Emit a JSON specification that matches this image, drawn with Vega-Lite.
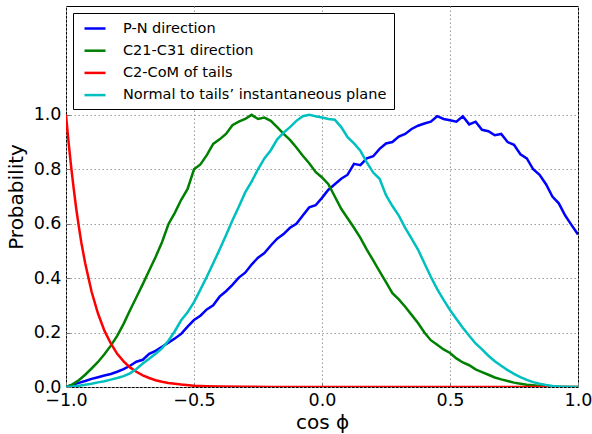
{
  "$schema": "https://vega.github.io/schema/vega-lite/v6.json",
  "width": 512,
  "height": 381,
  "autosize": {"type": "none"},
  "padding": {"left": 66, "top": 6, "right": 14, "bottom": 47},
  "background": "white",
  "config": {
    "font": "DejaVu Sans",
    "view": {"stroke": "black", "strokeWidth": 1},
    "axis": {"domain": false, "ticks": true, "tickSize": -4, "tickColor": "#777", "tickWidth": 1, "labelFont": "DejaVu Sans", "titleFont": "DejaVu Sans", "labelColor": "black", "titleColor": "black", "titleFontWeight": "normal", "labelFontSize": 17.5, "titleFontSize": 20, "gridColor": "#9a9a9a", "gridDash": [1.5, 2.5], "gridWidth": 1, "labelFlush": false, "labelOverlap": false}
  },
  "data": {"values": [
    {"x": -1.000, "p": 0.000, "s": "P-N direction"},
    {"x": -0.975, "p": 0.008, "s": "P-N direction"},
    {"x": -0.950, "p": 0.015, "s": "P-N direction"},
    {"x": -0.925, "p": 0.022, "s": "P-N direction"},
    {"x": -0.900, "p": 0.030, "s": "P-N direction"},
    {"x": -0.875, "p": 0.036, "s": "P-N direction"},
    {"x": -0.850, "p": 0.042, "s": "P-N direction"},
    {"x": -0.825, "p": 0.048, "s": "P-N direction"},
    {"x": -0.800, "p": 0.056, "s": "P-N direction"},
    {"x": -0.775, "p": 0.066, "s": "P-N direction"},
    {"x": -0.750, "p": 0.078, "s": "P-N direction"},
    {"x": -0.725, "p": 0.093, "s": "P-N direction"},
    {"x": -0.700, "p": 0.100, "s": "P-N direction"},
    {"x": -0.675, "p": 0.122, "s": "P-N direction"},
    {"x": -0.650, "p": 0.133, "s": "P-N direction"},
    {"x": -0.625, "p": 0.148, "s": "P-N direction"},
    {"x": -0.600, "p": 0.163, "s": "P-N direction"},
    {"x": -0.575, "p": 0.178, "s": "P-N direction"},
    {"x": -0.550, "p": 0.195, "s": "P-N direction"},
    {"x": -0.525, "p": 0.222, "s": "P-N direction"},
    {"x": -0.500, "p": 0.246, "s": "P-N direction"},
    {"x": -0.475, "p": 0.262, "s": "P-N direction"},
    {"x": -0.450, "p": 0.285, "s": "P-N direction"},
    {"x": -0.425, "p": 0.300, "s": "P-N direction"},
    {"x": -0.400, "p": 0.332, "s": "P-N direction"},
    {"x": -0.375, "p": 0.352, "s": "P-N direction"},
    {"x": -0.350, "p": 0.375, "s": "P-N direction"},
    {"x": -0.325, "p": 0.402, "s": "P-N direction"},
    {"x": -0.300, "p": 0.420, "s": "P-N direction"},
    {"x": -0.275, "p": 0.450, "s": "P-N direction"},
    {"x": -0.250, "p": 0.475, "s": "P-N direction"},
    {"x": -0.225, "p": 0.492, "s": "P-N direction"},
    {"x": -0.200, "p": 0.520, "s": "P-N direction"},
    {"x": -0.175, "p": 0.545, "s": "P-N direction"},
    {"x": -0.150, "p": 0.562, "s": "P-N direction"},
    {"x": -0.125, "p": 0.585, "s": "P-N direction"},
    {"x": -0.100, "p": 0.600, "s": "P-N direction"},
    {"x": -0.075, "p": 0.630, "s": "P-N direction"},
    {"x": -0.050, "p": 0.660, "s": "P-N direction"},
    {"x": -0.025, "p": 0.668, "s": "P-N direction"},
    {"x": 0.000, "p": 0.695, "s": "P-N direction"},
    {"x": 0.025, "p": 0.725, "s": "P-N direction"},
    {"x": 0.050, "p": 0.745, "s": "P-N direction"},
    {"x": 0.075, "p": 0.765, "s": "P-N direction"},
    {"x": 0.100, "p": 0.780, "s": "P-N direction"},
    {"x": 0.125, "p": 0.820, "s": "P-N direction"},
    {"x": 0.150, "p": 0.815, "s": "P-N direction"},
    {"x": 0.175, "p": 0.840, "s": "P-N direction"},
    {"x": 0.200, "p": 0.848, "s": "P-N direction"},
    {"x": 0.225, "p": 0.875, "s": "P-N direction"},
    {"x": 0.250, "p": 0.895, "s": "P-N direction"},
    {"x": 0.275, "p": 0.900, "s": "P-N direction"},
    {"x": 0.300, "p": 0.920, "s": "P-N direction"},
    {"x": 0.325, "p": 0.930, "s": "P-N direction"},
    {"x": 0.350, "p": 0.948, "s": "P-N direction"},
    {"x": 0.375, "p": 0.960, "s": "P-N direction"},
    {"x": 0.400, "p": 0.968, "s": "P-N direction"},
    {"x": 0.425, "p": 0.975, "s": "P-N direction"},
    {"x": 0.450, "p": 0.995, "s": "P-N direction"},
    {"x": 0.475, "p": 0.985, "s": "P-N direction"},
    {"x": 0.500, "p": 0.980, "s": "P-N direction"},
    {"x": 0.525, "p": 0.975, "s": "P-N direction"},
    {"x": 0.550, "p": 0.995, "s": "P-N direction"},
    {"x": 0.575, "p": 0.965, "s": "P-N direction"},
    {"x": 0.600, "p": 0.975, "s": "P-N direction"},
    {"x": 0.625, "p": 0.945, "s": "P-N direction"},
    {"x": 0.650, "p": 0.940, "s": "P-N direction"},
    {"x": 0.675, "p": 0.925, "s": "P-N direction"},
    {"x": 0.700, "p": 0.930, "s": "P-N direction"},
    {"x": 0.725, "p": 0.900, "s": "P-N direction"},
    {"x": 0.750, "p": 0.890, "s": "P-N direction"},
    {"x": 0.775, "p": 0.855, "s": "P-N direction"},
    {"x": 0.800, "p": 0.840, "s": "P-N direction"},
    {"x": 0.825, "p": 0.800, "s": "P-N direction"},
    {"x": 0.850, "p": 0.780, "s": "P-N direction"},
    {"x": 0.875, "p": 0.745, "s": "P-N direction"},
    {"x": 0.900, "p": 0.700, "s": "P-N direction"},
    {"x": 0.925, "p": 0.675, "s": "P-N direction"},
    {"x": 0.950, "p": 0.630, "s": "P-N direction"},
    {"x": 0.975, "p": 0.595, "s": "P-N direction"},
    {"x": 1.000, "p": 0.560, "s": "P-N direction"},

    {"x": -1.000, "p": 0.000, "s": "C21-C31 direction"},
    {"x": -0.975, "p": 0.010, "s": "C21-C31 direction"},
    {"x": -0.950, "p": 0.025, "s": "C21-C31 direction"},
    {"x": -0.925, "p": 0.045, "s": "C21-C31 direction"},
    {"x": -0.900, "p": 0.068, "s": "C21-C31 direction"},
    {"x": -0.875, "p": 0.092, "s": "C21-C31 direction"},
    {"x": -0.850, "p": 0.120, "s": "C21-C31 direction"},
    {"x": -0.825, "p": 0.152, "s": "C21-C31 direction"},
    {"x": -0.800, "p": 0.188, "s": "C21-C31 direction"},
    {"x": -0.775, "p": 0.232, "s": "C21-C31 direction"},
    {"x": -0.750, "p": 0.282, "s": "C21-C31 direction"},
    {"x": -0.725, "p": 0.330, "s": "C21-C31 direction"},
    {"x": -0.700, "p": 0.378, "s": "C21-C31 direction"},
    {"x": -0.675, "p": 0.428, "s": "C21-C31 direction"},
    {"x": -0.650, "p": 0.478, "s": "C21-C31 direction"},
    {"x": -0.625, "p": 0.532, "s": "C21-C31 direction"},
    {"x": -0.600, "p": 0.598, "s": "C21-C31 direction"},
    {"x": -0.575, "p": 0.640, "s": "C21-C31 direction"},
    {"x": -0.550, "p": 0.688, "s": "C21-C31 direction"},
    {"x": -0.525, "p": 0.728, "s": "C21-C31 direction"},
    {"x": -0.500, "p": 0.800, "s": "C21-C31 direction"},
    {"x": -0.475, "p": 0.818, "s": "C21-C31 direction"},
    {"x": -0.450, "p": 0.852, "s": "C21-C31 direction"},
    {"x": -0.425, "p": 0.893, "s": "C21-C31 direction"},
    {"x": -0.400, "p": 0.910, "s": "C21-C31 direction"},
    {"x": -0.375, "p": 0.930, "s": "C21-C31 direction"},
    {"x": -0.350, "p": 0.962, "s": "C21-C31 direction"},
    {"x": -0.325, "p": 0.975, "s": "C21-C31 direction"},
    {"x": -0.300, "p": 0.985, "s": "C21-C31 direction"},
    {"x": -0.275, "p": 1.000, "s": "C21-C31 direction"},
    {"x": -0.250, "p": 0.985, "s": "C21-C31 direction"},
    {"x": -0.225, "p": 0.990, "s": "C21-C31 direction"},
    {"x": -0.200, "p": 0.978, "s": "C21-C31 direction"},
    {"x": -0.175, "p": 0.955, "s": "C21-C31 direction"},
    {"x": -0.150, "p": 0.930, "s": "C21-C31 direction"},
    {"x": -0.125, "p": 0.908, "s": "C21-C31 direction"},
    {"x": -0.100, "p": 0.880, "s": "C21-C31 direction"},
    {"x": -0.075, "p": 0.850, "s": "C21-C31 direction"},
    {"x": -0.050, "p": 0.822, "s": "C21-C31 direction"},
    {"x": -0.025, "p": 0.790, "s": "C21-C31 direction"},
    {"x": 0.000, "p": 0.770, "s": "C21-C31 direction"},
    {"x": 0.025, "p": 0.745, "s": "C21-C31 direction"},
    {"x": 0.050, "p": 0.700, "s": "C21-C31 direction"},
    {"x": 0.075, "p": 0.655, "s": "C21-C31 direction"},
    {"x": 0.100, "p": 0.620, "s": "C21-C31 direction"},
    {"x": 0.125, "p": 0.585, "s": "C21-C31 direction"},
    {"x": 0.150, "p": 0.548, "s": "C21-C31 direction"},
    {"x": 0.175, "p": 0.505, "s": "C21-C31 direction"},
    {"x": 0.200, "p": 0.465, "s": "C21-C31 direction"},
    {"x": 0.225, "p": 0.425, "s": "C21-C31 direction"},
    {"x": 0.250, "p": 0.385, "s": "C21-C31 direction"},
    {"x": 0.275, "p": 0.345, "s": "C21-C31 direction"},
    {"x": 0.300, "p": 0.322, "s": "C21-C31 direction"},
    {"x": 0.325, "p": 0.295, "s": "C21-C31 direction"},
    {"x": 0.350, "p": 0.265, "s": "C21-C31 direction"},
    {"x": 0.375, "p": 0.235, "s": "C21-C31 direction"},
    {"x": 0.400, "p": 0.200, "s": "C21-C31 direction"},
    {"x": 0.425, "p": 0.172, "s": "C21-C31 direction"},
    {"x": 0.450, "p": 0.155, "s": "C21-C31 direction"},
    {"x": 0.475, "p": 0.138, "s": "C21-C31 direction"},
    {"x": 0.500, "p": 0.125, "s": "C21-C31 direction"},
    {"x": 0.525, "p": 0.105, "s": "C21-C31 direction"},
    {"x": 0.550, "p": 0.090, "s": "C21-C31 direction"},
    {"x": 0.575, "p": 0.080, "s": "C21-C31 direction"},
    {"x": 0.600, "p": 0.065, "s": "C21-C31 direction"},
    {"x": 0.625, "p": 0.055, "s": "C21-C31 direction"},
    {"x": 0.650, "p": 0.045, "s": "C21-C31 direction"},
    {"x": 0.675, "p": 0.035, "s": "C21-C31 direction"},
    {"x": 0.700, "p": 0.028, "s": "C21-C31 direction"},
    {"x": 0.725, "p": 0.022, "s": "C21-C31 direction"},
    {"x": 0.750, "p": 0.016, "s": "C21-C31 direction"},
    {"x": 0.775, "p": 0.012, "s": "C21-C31 direction"},
    {"x": 0.800, "p": 0.008, "s": "C21-C31 direction"},
    {"x": 0.825, "p": 0.006, "s": "C21-C31 direction"},
    {"x": 0.850, "p": 0.004, "s": "C21-C31 direction"},
    {"x": 0.875, "p": 0.002, "s": "C21-C31 direction"},
    {"x": 0.900, "p": 0.001, "s": "C21-C31 direction"},
    {"x": 0.950, "p": 0.000, "s": "C21-C31 direction"},
    {"x": 1.000, "p": 0.000, "s": "C21-C31 direction"},

    {"x": -1.000, "p": 1.000, "s": "C2-CoM of tails"},
    {"x": -0.990, "p": 0.900, "s": "C2-CoM of tails"},
    {"x": -0.980, "p": 0.810, "s": "C2-CoM of tails"},
    {"x": -0.970, "p": 0.730, "s": "C2-CoM of tails"},
    {"x": -0.960, "p": 0.655, "s": "C2-CoM of tails"},
    {"x": -0.950, "p": 0.590, "s": "C2-CoM of tails"},
    {"x": -0.940, "p": 0.530, "s": "C2-CoM of tails"},
    {"x": -0.925, "p": 0.455, "s": "C2-CoM of tails"},
    {"x": -0.900, "p": 0.350, "s": "C2-CoM of tails"},
    {"x": -0.875, "p": 0.270, "s": "C2-CoM of tails"},
    {"x": -0.850, "p": 0.207, "s": "C2-CoM of tails"},
    {"x": -0.825, "p": 0.160, "s": "C2-CoM of tails"},
    {"x": -0.800, "p": 0.122, "s": "C2-CoM of tails"},
    {"x": -0.775, "p": 0.094, "s": "C2-CoM of tails"},
    {"x": -0.750, "p": 0.072, "s": "C2-CoM of tails"},
    {"x": -0.725, "p": 0.056, "s": "C2-CoM of tails"},
    {"x": -0.700, "p": 0.043, "s": "C2-CoM of tails"},
    {"x": -0.675, "p": 0.033, "s": "C2-CoM of tails"},
    {"x": -0.650, "p": 0.025, "s": "C2-CoM of tails"},
    {"x": -0.625, "p": 0.019, "s": "C2-CoM of tails"},
    {"x": -0.600, "p": 0.015, "s": "C2-CoM of tails"},
    {"x": -0.550, "p": 0.009, "s": "C2-CoM of tails"},
    {"x": -0.500, "p": 0.005, "s": "C2-CoM of tails"},
    {"x": -0.450, "p": 0.003, "s": "C2-CoM of tails"},
    {"x": -0.400, "p": 0.002, "s": "C2-CoM of tails"},
    {"x": -0.300, "p": 0.001, "s": "C2-CoM of tails"},
    {"x": -0.200, "p": 0.000, "s": "C2-CoM of tails"},
    {"x": 0.000, "p": 0.000, "s": "C2-CoM of tails"},
    {"x": 0.500, "p": 0.000, "s": "C2-CoM of tails"},
    {"x": 1.000, "p": 0.000, "s": "C2-CoM of tails"},

    {"x": -1.000, "p": 0.000, "s": "Normal to tails’ instantaneous plane"},
    {"x": -0.975, "p": 0.002, "s": "Normal to tails’ instantaneous plane"},
    {"x": -0.950, "p": 0.005, "s": "Normal to tails’ instantaneous plane"},
    {"x": -0.925, "p": 0.008, "s": "Normal to tails’ instantaneous plane"},
    {"x": -0.900, "p": 0.012, "s": "Normal to tails’ instantaneous plane"},
    {"x": -0.875, "p": 0.017, "s": "Normal to tails’ instantaneous plane"},
    {"x": -0.850, "p": 0.021, "s": "Normal to tails’ instantaneous plane"},
    {"x": -0.825, "p": 0.027, "s": "Normal to tails’ instantaneous plane"},
    {"x": -0.800, "p": 0.033, "s": "Normal to tails’ instantaneous plane"},
    {"x": -0.775, "p": 0.040, "s": "Normal to tails’ instantaneous plane"},
    {"x": -0.750, "p": 0.050, "s": "Normal to tails’ instantaneous plane"},
    {"x": -0.725, "p": 0.066, "s": "Normal to tails’ instantaneous plane"},
    {"x": -0.700, "p": 0.086, "s": "Normal to tails’ instantaneous plane"},
    {"x": -0.675, "p": 0.104, "s": "Normal to tails’ instantaneous plane"},
    {"x": -0.650, "p": 0.122, "s": "Normal to tails’ instantaneous plane"},
    {"x": -0.625, "p": 0.142, "s": "Normal to tails’ instantaneous plane"},
    {"x": -0.600, "p": 0.170, "s": "Normal to tails’ instantaneous plane"},
    {"x": -0.575, "p": 0.205, "s": "Normal to tails’ instantaneous plane"},
    {"x": -0.550, "p": 0.245, "s": "Normal to tails’ instantaneous plane"},
    {"x": -0.525, "p": 0.275, "s": "Normal to tails’ instantaneous plane"},
    {"x": -0.500, "p": 0.312, "s": "Normal to tails’ instantaneous plane"},
    {"x": -0.475, "p": 0.358, "s": "Normal to tails’ instantaneous plane"},
    {"x": -0.450, "p": 0.405, "s": "Normal to tails’ instantaneous plane"},
    {"x": -0.425, "p": 0.455, "s": "Normal to tails’ instantaneous plane"},
    {"x": -0.400, "p": 0.505, "s": "Normal to tails’ instantaneous plane"},
    {"x": -0.375, "p": 0.558, "s": "Normal to tails’ instantaneous plane"},
    {"x": -0.350, "p": 0.612, "s": "Normal to tails’ instantaneous plane"},
    {"x": -0.325, "p": 0.662, "s": "Normal to tails’ instantaneous plane"},
    {"x": -0.300, "p": 0.715, "s": "Normal to tails’ instantaneous plane"},
    {"x": -0.275, "p": 0.755, "s": "Normal to tails’ instantaneous plane"},
    {"x": -0.250, "p": 0.800, "s": "Normal to tails’ instantaneous plane"},
    {"x": -0.225, "p": 0.840, "s": "Normal to tails’ instantaneous plane"},
    {"x": -0.200, "p": 0.870, "s": "Normal to tails’ instantaneous plane"},
    {"x": -0.175, "p": 0.910, "s": "Normal to tails’ instantaneous plane"},
    {"x": -0.150, "p": 0.935, "s": "Normal to tails’ instantaneous plane"},
    {"x": -0.125, "p": 0.955, "s": "Normal to tails’ instantaneous plane"},
    {"x": -0.100, "p": 0.978, "s": "Normal to tails’ instantaneous plane"},
    {"x": -0.075, "p": 0.995, "s": "Normal to tails’ instantaneous plane"},
    {"x": -0.050, "p": 1.000, "s": "Normal to tails’ instantaneous plane"},
    {"x": -0.025, "p": 0.995, "s": "Normal to tails’ instantaneous plane"},
    {"x": 0.000, "p": 0.990, "s": "Normal to tails’ instantaneous plane"},
    {"x": 0.025, "p": 0.985, "s": "Normal to tails’ instantaneous plane"},
    {"x": 0.050, "p": 0.982, "s": "Normal to tails’ instantaneous plane"},
    {"x": 0.075, "p": 0.955, "s": "Normal to tails’ instantaneous plane"},
    {"x": 0.100, "p": 0.918, "s": "Normal to tails’ instantaneous plane"},
    {"x": 0.125, "p": 0.895, "s": "Normal to tails’ instantaneous plane"},
    {"x": 0.150, "p": 0.868, "s": "Normal to tails’ instantaneous plane"},
    {"x": 0.175, "p": 0.825, "s": "Normal to tails’ instantaneous plane"},
    {"x": 0.200, "p": 0.788, "s": "Normal to tails’ instantaneous plane"},
    {"x": 0.225, "p": 0.765, "s": "Normal to tails’ instantaneous plane"},
    {"x": 0.250, "p": 0.705, "s": "Normal to tails’ instantaneous plane"},
    {"x": 0.275, "p": 0.665, "s": "Normal to tails’ instantaneous plane"},
    {"x": 0.300, "p": 0.630, "s": "Normal to tails’ instantaneous plane"},
    {"x": 0.325, "p": 0.585, "s": "Normal to tails’ instantaneous plane"},
    {"x": 0.350, "p": 0.545, "s": "Normal to tails’ instantaneous plane"},
    {"x": 0.375, "p": 0.505, "s": "Normal to tails’ instantaneous plane"},
    {"x": 0.400, "p": 0.455, "s": "Normal to tails’ instantaneous plane"},
    {"x": 0.425, "p": 0.405, "s": "Normal to tails’ instantaneous plane"},
    {"x": 0.450, "p": 0.360, "s": "Normal to tails’ instantaneous plane"},
    {"x": 0.475, "p": 0.320, "s": "Normal to tails’ instantaneous plane"},
    {"x": 0.500, "p": 0.283, "s": "Normal to tails’ instantaneous plane"},
    {"x": 0.525, "p": 0.250, "s": "Normal to tails’ instantaneous plane"},
    {"x": 0.550, "p": 0.218, "s": "Normal to tails’ instantaneous plane"},
    {"x": 0.575, "p": 0.188, "s": "Normal to tails’ instantaneous plane"},
    {"x": 0.600, "p": 0.160, "s": "Normal to tails’ instantaneous plane"},
    {"x": 0.625, "p": 0.138, "s": "Normal to tails’ instantaneous plane"},
    {"x": 0.650, "p": 0.115, "s": "Normal to tails’ instantaneous plane"},
    {"x": 0.675, "p": 0.095, "s": "Normal to tails’ instantaneous plane"},
    {"x": 0.700, "p": 0.078, "s": "Normal to tails’ instantaneous plane"},
    {"x": 0.725, "p": 0.062, "s": "Normal to tails’ instantaneous plane"},
    {"x": 0.750, "p": 0.048, "s": "Normal to tails’ instantaneous plane"},
    {"x": 0.775, "p": 0.036, "s": "Normal to tails’ instantaneous plane"},
    {"x": 0.800, "p": 0.026, "s": "Normal to tails’ instantaneous plane"},
    {"x": 0.825, "p": 0.018, "s": "Normal to tails’ instantaneous plane"},
    {"x": 0.850, "p": 0.012, "s": "Normal to tails’ instantaneous plane"},
    {"x": 0.875, "p": 0.007, "s": "Normal to tails’ instantaneous plane"},
    {"x": 0.900, "p": 0.004, "s": "Normal to tails’ instantaneous plane"},
    {"x": 0.925, "p": 0.002, "s": "Normal to tails’ instantaneous plane"},
    {"x": 0.950, "p": 0.001, "s": "Normal to tails’ instantaneous plane"},
    {"x": 0.975, "p": 0.000, "s": "Normal to tails’ instantaneous plane"},
    {"x": 1.000, "p": 0.000, "s": "Normal to tails’ instantaneous plane"}
  ]},
  "mark": {"type": "line", "strokeWidth": 2.5, "clip": true, "interpolate": "linear"},
  "encoding": {
    "x": {
      "field": "x", "type": "quantitative",
      "scale": {"domain": [-1, 1], "nice": false, "zero": false},
      "axis": {"values": [-1, -0.5, 0, 0.5, 1], "format": ".1f", "title": "cos ϕ", "labelPadding": 8, "titlePadding": 4}
    },
    "y": {
      "field": "p", "type": "quantitative",
      "scale": {"domain": [0, 1.4], "nice": false},
      "axis": {"values": [0, 0.2, 0.4, 0.6, 0.8, 1.0], "format": ".1f", "title": "Probability", "labelPadding": 9, "titlePadding": 7}
    },
    "color": {
      "field": "s", "type": "nominal",
      "scale": {
        "domain": ["P-N direction", "C21-C31 direction", "C2-CoM of tails", "Normal to tails’ instantaneous plane"],
        "range": ["#0000ff", "#008000", "#ff0000", "#00bfbf"]
      },
      "legend": {
        "title": null, "orient": "none", "legendX": 7, "legendY": 7,
        "symbolType": "M-0.571,0H2.429", "symbolSize": 196, "symbolStrokeWidth": 2.5,
        "labelFont": "DejaVu Sans", "labelFontSize": 14.5, "labelColor": "black", "labelOffset": 26, "labelLimit": 400,
        "rowPadding": 7.2, "padding": 7, "strokeColor": "black", "fillColor": "white", "cornerRadius": 0
      }
    },
    "order": {"field": "x", "type": "quantitative"}
  }
}
